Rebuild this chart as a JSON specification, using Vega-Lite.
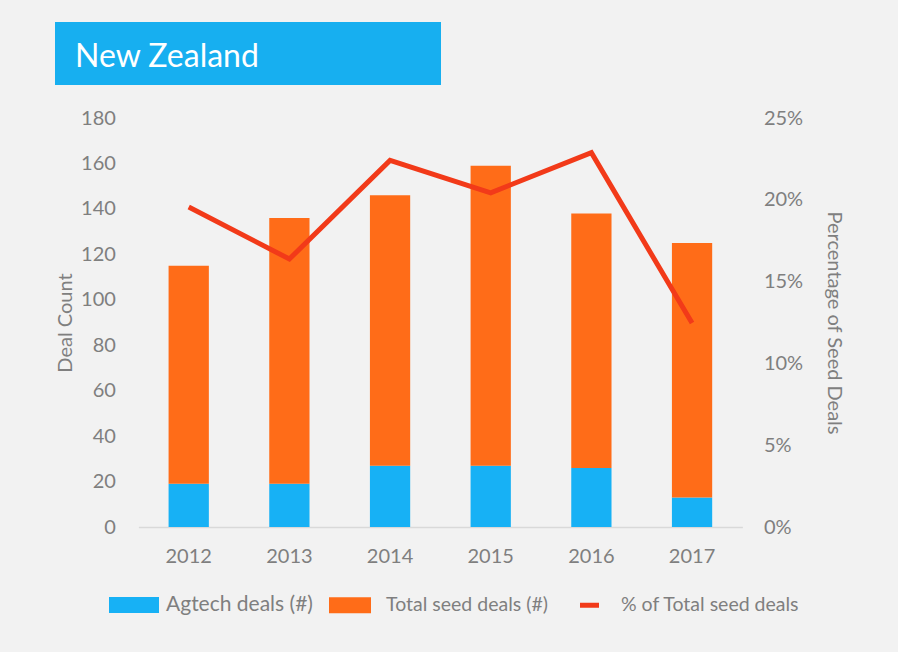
{
  "$schema": "https://vega.github.io/schema/vega-lite/v6.json",
  "background": "#F2F2F2",
  "padding": {"left": 55, "top": 22, "right": 53, "bottom": 37},
  "config": {
    "font": "Lato",
    "view": {"stroke": null},
    "axis": {
      "labelFont": "Lato",
      "labelFontSize": 20,
      "labelColor": "#7F7F7F",
      "titleFont": "Lato",
      "titleFontSize": 20,
      "titleFontWeight": "normal",
      "titleColor": "#7F7F7F",
      "ticks": false,
      "grid": false,
      "domain": false
    }
  },
  "datasets": {
    "bars": [
      {"year": "2012", "series": "Agtech deals (#)", "count": 19},
      {"year": "2012", "series": "Total seed deals (#)", "count": 96},
      {"year": "2013", "series": "Agtech deals (#)", "count": 19},
      {"year": "2013", "series": "Total seed deals (#)", "count": 117},
      {"year": "2014", "series": "Agtech deals (#)", "count": 27},
      {"year": "2014", "series": "Total seed deals (#)", "count": 119},
      {"year": "2015", "series": "Agtech deals (#)", "count": 27},
      {"year": "2015", "series": "Total seed deals (#)", "count": 132},
      {"year": "2016", "series": "Agtech deals (#)", "count": 26},
      {"year": "2016", "series": "Total seed deals (#)", "count": 112},
      {"year": "2017", "series": "Agtech deals (#)", "count": 13},
      {"year": "2017", "series": "Total seed deals (#)", "count": 112}
    ],
    "pct": [
      {"year": "2012", "pct": 0.1956},
      {"year": "2013", "pct": 0.1638},
      {"year": "2014", "pct": 0.2241},
      {"year": "2015", "pct": 0.2043},
      {"year": "2016", "pct": 0.2288},
      {"year": "2017", "pct": 0.1247}
    ],
    "title": [{"title": "New Zealand"}]
  },
  "vconcat": [
    {
      "width": 386,
      "height": 63,
      "view": {"fill": "#17AFF0", "stroke": null},
      "title": {"text": " ", "orient": "right", "offset": 466, "color": "transparent", "fontSize": 20},
      "data": {"name": "title"},
      "mark": {"type": "text", "align": "left", "baseline": "alphabetic", "dx": -173, "dy": 13, "fontSize": 32, "color": "#FFFFFF", "font": "Lato"},
      "encoding": {"text": {"field": "title", "type": "nominal"}}
    },
    {
      "width": 604,
      "height": 409,
      "layer": [
        {
          "data": {"name": "bars"},
          "mark": {"type": "bar"},
          "encoding": {
            "x": {
              "field": "year", "type": "ordinal",
              "scale": {"paddingInner": 0.6, "paddingOuter": 0.3},
              "axis": {"title": null, "labelAngle": 0, "labelPadding": 19, "domain": true, "domainColor": "#D9D9D9", "domainWidth": 1.5}
            },
            "y": {
              "field": "count", "type": "quantitative", "stack": "zero",
              "scale": {"domain": [0, 180]},
              "axis": {"title": "Deal Count", "values": [0, 20, 40, 60, 80, 100, 120, 140, 160, 180], "labelPadding": 23, "titlePadding": 5}
            },
            "order": {"field": "series", "sort": "ascending"},
            "color": {
              "field": "series", "type": "nominal",
              "scale": {"domain": ["Agtech deals (#)", "Total seed deals (#)", "% of Total seed deals"], "range": ["#17B1F5", "#FF6C18", "#F23A19"]},
              "legend": {
                "orient": "none", "legendX": 54, "legendY": 558,
                "direction": "horizontal", "columns": 3,
                "title": null, "symbolSize": 2500, "symbolStrokeWidth": 0,
                "labelOffset": 7, "columnPadding": 16, "labelLimit": 0,
                "labelColor": "#7F7F7F", "labelFont": "Lato", "labelFontSize": 19.5,
                "encode": {
                  "symbols": {"update": {
                    "shape": {"signal": "datum.value === '% of Total seed deals' ? 'M-0.36,-0.1H0.4V0.1H-0.36Z' : datum.value === 'Agtech deals (#)' ? 'M-1,-0.32H1V0.32H-1Z' : 'M-1,-0.32H0.68V0.32H-1Z'"},
                    "fill": {"signal": "scale('color', datum.value)"},
                    "stroke": {"value": "transparent"},
                    "strokeWidth": {"value": 0},
                    "opacity": {"value": 1}
                  }},
                  "labels": {"update": {
                    "fontSize": {"signal": "datum.value === 'Agtech deals (#)' ? 21 : 19.5"}
                  }}
                }
              }
            }
          }
        },
        {
          "data": {"name": "pct"},
          "mark": {"type": "line", "strokeWidth": 5, "strokeJoin": "miter", "strokeCap": "butt"},
          "encoding": {
            "x": {"field": "year", "type": "ordinal"},
            "y": {
              "field": "pct", "type": "quantitative",
              "scale": {"domain": [0, 0.25]},
              "axis": {"orient": "right", "title": "Percentage of Seed Deals", "format": ".0%", "values": [0, 0.05, 0.1, 0.15, 0.2, 0.25], "labelPadding": 21, "titlePadding": 21}
            },
            "color": {"datum": "% of Total seed deals"}
          }
        }
      ],
      "resolve": {"scale": {"y": "independent"}}
    }
  ],
  "center": true,
  "spacing": 23
}
